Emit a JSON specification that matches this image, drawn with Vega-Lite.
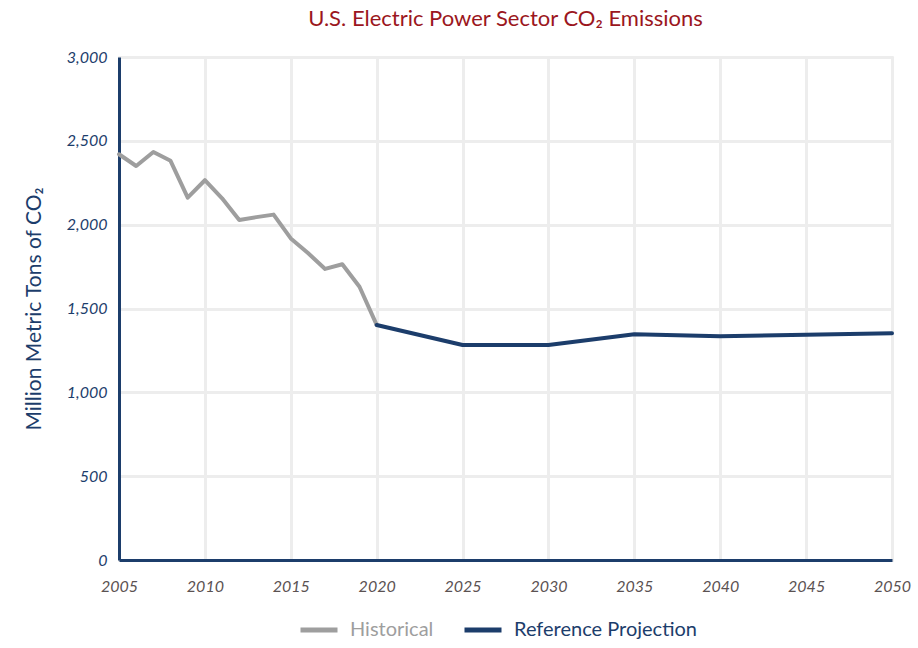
{
  "$schema": "https://vega.github.io/schema/vega-lite/v6.json",
  "width": 773,
  "height": 503,
  "autosize": {"type": "none"},
  "padding": {"left": 119, "top": 57, "right": 26, "bottom": 88},
  "background": "#ffffff",
  "title": {
    "text": "U.S. Electric Power Sector CO₂ Emissions",
    "color": "#9b1620",
    "font": "Lato",
    "fontSize": 22,
    "fontWeight": "normal",
    "anchor": "middle",
    "offset": 18
  },
  "data": {
    "values": [
      {"year": 2005, "value": 2420, "series": "Historical"},
      {"year": 2006, "value": 2350, "series": "Historical"},
      {"year": 2007, "value": 2433, "series": "Historical"},
      {"year": 2008, "value": 2381, "series": "Historical"},
      {"year": 2009, "value": 2161, "series": "Historical"},
      {"year": 2010, "value": 2265, "series": "Historical"},
      {"year": 2011, "value": 2157, "series": "Historical"},
      {"year": 2012, "value": 2028, "series": "Historical"},
      {"year": 2013, "value": 2045, "series": "Historical"},
      {"year": 2014, "value": 2060, "series": "Historical"},
      {"year": 2015, "value": 1918, "series": "Historical"},
      {"year": 2016, "value": 1831, "series": "Historical"},
      {"year": 2017, "value": 1736, "series": "Historical"},
      {"year": 2018, "value": 1764, "series": "Historical"},
      {"year": 2019, "value": 1630, "series": "Historical"},
      {"year": 2020, "value": 1402, "series": "Historical"},
      {"year": 2020, "value": 1402, "series": "Reference Projection"},
      {"year": 2025, "value": 1282, "series": "Reference Projection"},
      {"year": 2030, "value": 1282, "series": "Reference Projection"},
      {"year": 2035, "value": 1346, "series": "Reference Projection"},
      {"year": 2040, "value": 1334, "series": "Reference Projection"},
      {"year": 2045, "value": 1344, "series": "Reference Projection"},
      {"year": 2050, "value": 1352, "series": "Reference Projection"}
    ]
  },
  "mark": {"type": "line", "strokeWidth": 4, "strokeJoin": "round", "strokeCap": "round"},
  "encoding": {
    "x": {
      "field": "year",
      "type": "quantitative",
      "scale": {"domain": [2005, 2050], "nice": false, "zero": false},
      "axis": {
        "title": null,
        "values": [2005, 2010, 2015, 2020, 2025, 2030, 2035, 2040, 2045, 2050],
        "format": "d",
        "ticks": false,
        "labelPadding": 18,
        "labelFont": "Lato",
        "labelFontStyle": "italic",
        "labelFontSize": 16,
        "labelColor": "#5b5252",
        "domainColor": "#1c3d6b",
        "domainWidth": 3,
        "gridColor": "#ededed",
        "gridWidth": 3,
        "labelFlush": false
      }
    },
    "y": {
      "field": "value",
      "type": "quantitative",
      "scale": {"domain": [0, 3000], "nice": false},
      "axis": {
        "title": "Million Metric Tons of CO₂",
        "titleFont": "Lato",
        "titleFontSize": 21,
        "titleFontWeight": "normal",
        "titleColor": "#1c3d6b",
        "titlePadding": 22,
        "values": [0, 500, 1000, 1500, 2000, 2500, 3000],
        "format": ",d",
        "ticks": false,
        "labelPadding": 12,
        "labelFont": "Lato",
        "labelFontStyle": "italic",
        "labelFontSize": 16,
        "labelColor": "#1c3d6b",
        "domainColor": "#1c3d6b",
        "domainWidth": 3,
        "gridColor": "#ededed",
        "gridWidth": 3
      }
    },
    "color": {
      "field": "series",
      "type": "nominal",
      "scale": {"domain": ["Historical", "Reference Projection"], "range": ["#9e9e9e", "#1c3d6b"]},
      "legend": {
        "title": null,
        "orient": "none",
        "direction": "horizontal",
        "legendX": 179,
        "legendY": 552,
        "symbolType": "stroke",
        "symbolSize": 1369,
        "symbolStrokeWidth": 5,
        "labelFont": "Lato",
        "labelFontSize": 20,
        "labelOffset": 10,
        "columnPadding": 20,
        "labelLimit": 300,
        "encode": {
          "labels": {
            "update": {
              "fill": {"signal": "datum.value === 'Historical' ? '#9e9e9e' : '#1c3d6b'"}
            }
          }
        }
      }
    }
  },
  "config": {
    "view": {"stroke": null},
    "axis": {"gridCap": "round"}
  }
}
